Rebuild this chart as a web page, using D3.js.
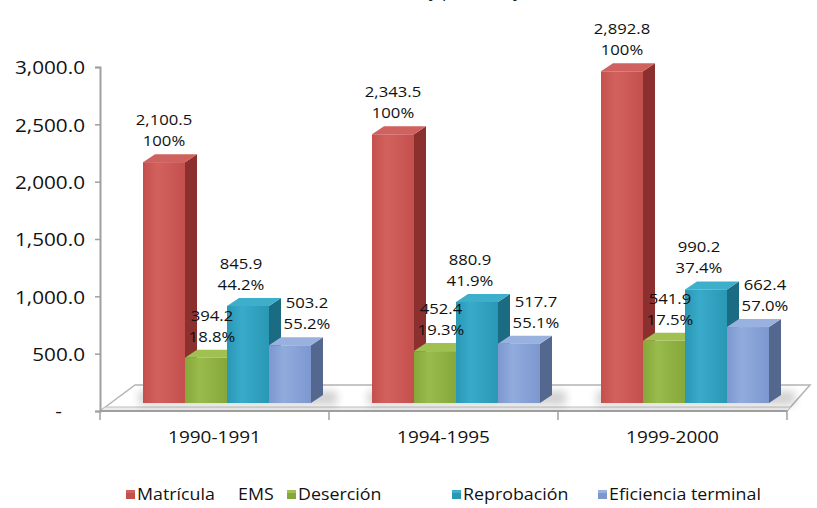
<!DOCTYPE html>
<html>
<head>
<meta charset="utf-8">
<script src="https://cdn.jsdelivr.net/npm/d3@7"></script>
<style>
  html, body { margin: 0; padding: 0; background: #ffffff; }
  svg { display: block; font-family: "Open Sans", "Noto Sans", sans-serif; }
</style>
</head>
<body>
<svg id="chart" width="817" height="508"></svg>
<script>
// ---- data ----
const categories = ["1990-1991", "1994-1995", "1999-2000"];
const seriesNames = ["Matrícula     EMS", "Deserción", "Reprobación", "Eficiencia terminal"];
const matricula = [2100.5, 2343.5, 2892.8];
const desercion = [394.2, 452.4, 541.9];
const reprobacion = [845.9, 880.9, 990.2];
const eficiencia = [503.2, 517.7, 662.4];
const matriculaPct = [100, 100, 100];
const desercionPct = [18.8, 19.3, 17.5];
const reprobacionPct = [44.2, 41.9, 37.4];
const eficienciaPct = [55.2, 55.1, 57.0];
const yTicks = [0, 500, 1000, 1500, 2000, 2500, 3000];
const titleText = "(Miles de alumnos y porcentajes)";

// ---- styles / layout ----
const plot = { left: 100, right: 787, floorY: 411, top: 67 };
const barDepth = { dx: 12, dy: -8 };
const floorBack = { left: 135, right: 810, y: 385 };
const barLift = 8;          // bars stand a little behind the axis plane
const groupInset = 43;      // gap between band start and first bar
const barW = 42;
const TEXT_STRETCH = 1.15;
const palette = [
  { front: "#C4504D", light: "#D2615E", top: "#CF625F", side: "#8B302E" },
  { front: "#86A83A", light: "#98BB4C", top: "#A0C152", side: "#5E7A24" },
  { front: "#2898B5", light: "#3AAACA", top: "#3EAFCB", side: "#1B6B82" },
  { front: "#7D98CF", light: "#91ABDD", top: "#98B1DE", side: "#53678F" }
];
const labelDx = [0, 6, -7, 17];

const values = [matricula, desercion, reprobacion, eficiencia];
const pcts = [matriculaPct, desercionPct, reprobacionPct, eficienciaPct];

const fmtVal = d3.format(",.1f");
const fmtPct = p => (p === 100 ? "100" : d3.format(".1f")(p)) + "%";

const svg = d3.select("#chart");

// widen glyphs slightly so the text keeps the chart's proportions
function stretch(sel) {
  sel.each(function () {
    const w = this.getComputedTextLength();
    if (w > 0) {
      this.setAttribute("textLength", (w * TEXT_STRETCH).toFixed(1));
      this.setAttribute("lengthAdjust", "spacingAndGlyphs");
    }
  });
}

// gradients for bar fronts
const defs = svg.append("defs");
palette.forEach((c, i) => {
  const g = defs.append("linearGradient").attr("id", "front" + i)
    .attr("x1", 0).attr("x2", 1).attr("y1", 0).attr("y2", 0);
  g.append("stop").attr("offset", "0%").attr("stop-color", c.front);
  g.append("stop").attr("offset", "35%").attr("stop-color", c.light);
  g.append("stop").attr("offset", "100%").attr("stop-color", c.front);
});
defs.append("filter").attr("id", "soft").attr("x", "-20%").attr("y", "-50%")
  .attr("width", "140%").attr("height", "200%")
  .append("feGaussianBlur").attr("stdDeviation", 4);

// ---- scales ----
const x = d3.scaleBand().domain(categories).range([plot.left, plot.right]).padding(0);
const inner = d3.scaleBand().domain(d3.range(seriesNames.length)).range([0, barW * seriesNames.length]);
const y = d3.scaleLinear().domain([0, 3000]).range([plot.floorY, plot.top]);

// ---- title (its lower edge runs along the top of the frame) ----
svg.append("text").attr("x", 410).attr("y", -3).attr("text-anchor", "middle")
  .attr("font-size", 15).attr("fill", "#222").text(titleText).call(stretch);

// ---- floor ----
const floorG = svg.append("g");
floorG.append("polygon")
  .attr("points", [
    [plot.left, plot.floorY], [floorBack.left, floorBack.y],
    [floorBack.right, floorBack.y], [plot.right, plot.floorY]
  ].map(p => p.join(",")).join(" "))
  .attr("fill", "#ffffff").attr("stroke", "#b4b4b4").attr("stroke-width", 1.5);
floorG.append("polygon")
  .attr("points", [
    [plot.left + 5, plot.floorY - 4], [plot.right + 4, plot.floorY - 4],
    [plot.right, plot.floorY], [plot.left, plot.floorY]
  ].map(p => p.join(",")).join(" "))
  .attr("fill", "#ececec").attr("stroke", "#bdbdbd").attr("stroke-width", 1);
floorG.append("line")
  .attr("x1", plot.left).attr("x2", plot.right)
  .attr("y1", plot.floorY).attr("y2", plot.floorY)
  .attr("stroke", "#a0a0a0").attr("stroke-width", 2);

// category separators
const edges = categories.map(c => x(c)).concat([x.range()[1]]);
floorG.selectAll("line.sep").data(edges).join("line").attr("class", "sep")
  .attr("x1", d => d).attr("x2", d => d)
  .attr("y1", plot.floorY).attr("y2", plot.floorY + 9)
  .attr("stroke", "#a0a0a0").attr("stroke-width", 1.5);

// soft shadows under each group
svg.append("g").selectAll("rect").data(categories).join("rect")
  .attr("x", c => x(c) + groupInset - 4)
  .attr("y", y(0) - barLift - 12)
  .attr("width", barW * 4 + 30)
  .attr("height", 14)
  .attr("fill", "#000").attr("opacity", 0.18)
  .attr("filter", "url(#soft)");

// ---- y axis ----
const yAxis = d3.axisLeft(y).tickValues(yTicks)
  .tickFormat(v => (v === 0 ? "-" : fmtVal(v)))
  .tickSize(5).tickPadding(10);
const yg = svg.append("g").attr("transform", `translate(${plot.left},0)`).call(yAxis);
yg.select(".domain").attr("stroke", "#a0a0a0").attr("stroke-width", 2);
yg.selectAll(".tick line").attr("stroke", "#a0a0a0").attr("stroke-width", 1.5);
yg.selectAll(".tick text").attr("font-size", 18).attr("fill", "#111")
  .attr("font-family", "Open Sans, sans-serif").attr("dy", "0.38em")
  .call(stretch);
yg.selectAll(".tick").filter(d => d === 0).select("text").attr("dx", -23);

// ---- bars ----
const bars = [];
categories.forEach((c, ci) => {
  values.forEach((vals, si) => {
    bars.push({ c, ci, si, v: vals[ci], p: pcts[si][ci] });
  });
});

const barsG = svg.append("g");
bars.forEach(b => {
  const x0 = x(b.c) + groupInset + inner(b.si);
  const x1 = x0 + inner.bandwidth();
  const yb = y(0) - barLift;
  const yt = y(b.v) - barLift;
  const col = palette[b.si];
  const g = barsG.append("g");
  // side
  g.append("polygon").attr("points", [
    [x1, yt], [x1 + barDepth.dx, yt + barDepth.dy],
    [x1 + barDepth.dx, yb + barDepth.dy], [x1, yb]
  ].map(p => p.join(",")).join(" ")).attr("fill", col.side);
  // top
  g.append("polygon").attr("points", [
    [x0, yt], [x0 + barDepth.dx, yt + barDepth.dy],
    [x1 + barDepth.dx, yt + barDepth.dy], [x1, yt]
  ].map(p => p.join(",")).join(" ")).attr("fill", col.top);
  // front
  g.append("rect").attr("x", x0).attr("y", yt)
    .attr("width", x1 - x0).attr("height", yb - yt)
    .attr("fill", `url(#front${b.si})`);
});

// ---- data labels ----
const labelsG = svg.append("g").attr("font-size", 14.5).attr("fill", "#111").attr("text-anchor", "middle");
bars.forEach(b => {
  const cx = x(b.c) + groupInset + inner(b.si) + inner.bandwidth() / 2 + labelDx[b.si];
  const backTop = y(b.v) - barLift + barDepth.dy;
  const pctBase = backTop - 8;
  labelsG.append("text").attr("x", cx).attr("y", pctBase - 21).text(fmtVal(b.v)).call(stretch);
  labelsG.append("text").attr("x", cx).attr("y", pctBase).text(fmtPct(b.p)).call(stretch);
});

// ---- category labels ----
const xAxis = d3.axisBottom(x).tickSize(0).tickPadding(20);
const xg = svg.append("g").attr("transform", `translate(0,${plot.floorY})`).call(xAxis);
xg.select(".domain").remove();
xg.selectAll(".tick text").attr("font-size", 16.5).attr("fill", "#111")
  .attr("font-family", "Open Sans, sans-serif").call(stretch);

// ---- legend ----
const legendX = [126, 287, 452, 598];
const legendY = 494;
const legendG = svg.append("g");
seriesNames.forEach((name, i) => {
  const col = palette[i];
  const lx = legendX[i];
  legendG.append("rect").attr("x", lx).attr("y", legendY - 4)
    .attr("width", 9).attr("height", 9).attr("fill", col.front);
  legendG.append("rect").attr("x", lx).attr("y", legendY - 4)
    .attr("width", 9).attr("height", 3).attr("fill", col.top);
  legendG.append("text").attr("x", lx + 11).attr("y", legendY + 6)
    .attr("font-size", 15.5).attr("fill", "#111")
    .style("white-space", "pre").text(name).call(stretch);
});
</script>
</body>
</html>
